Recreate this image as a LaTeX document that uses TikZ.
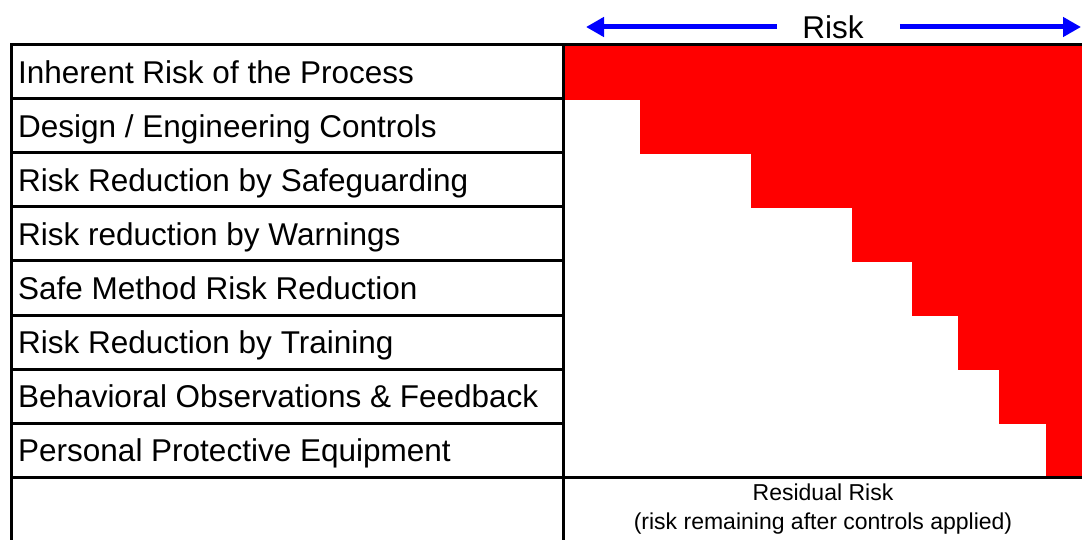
\documentclass[tikz,border=0pt]{standalone}
\usepackage{fontspec}
\setmainfont{Liberation Sans}
\usetikzlibrary{arrows.meta,positioning}
\definecolor{riskred}{HTML}{FF0000}
\definecolor{riskblue}{HTML}{0000FF}
\tikzset{
  rowlabel/.style={anchor=base west,inner sep=0pt,font=\fontsize{31.5}{36}\selectfont},
  gridline/.style={line width=3pt,black},
}

\begin{document}
\begin{tikzpicture}[>={Triangle[length=18pt,width=19pt]},x=1pt,y=-1pt]
  \useasboundingbox (0,0) rectangle (1082,540);
  % red staircase, one step per row
  \foreach \x/\y in {565/45,640/99,751/153,852/207,912/261,958/315,999/369,1046/423}
    \fill[riskred] (\x,\y) rectangle (1082,{\y+55});
  % table
  \draw[gridline] (10,45) -- (1082,45);
  \draw[gridline] (10,477) -- (1082,477);
  \foreach \y in {99,153,...,423}
    \draw[gridline] (10,\y) -- (563.5,\y);
  \draw[gridline] (11.5,43.5) -- (11.5,540);
  \draw[gridline] (563.5,43.5) -- (563.5,540);
  % row labels
  \foreach \t [count=\i] in {{Inherent Risk of the Process},{Design / Engineering Controls},
      {Risk Reduction by Safeguarding},{Risk reduction by Warnings},{Safe Method Risk Reduction},
      {Risk Reduction by Training},{Behavioral Observations \& Feedback},{Personal Protective Equipment}}
    \node[rowlabel] (row\i) at (18,{29.5+54*\i}) {\t};
  % risk axis
  \node[font=\fontsize{31.5}{36}\selectfont,inner sep=0pt] (risk) at (833,27) {Risk};
  \coordinate (lefttip) at (586,27);
  \coordinate (righttip) at (1081,27);
  \draw[->,riskblue,line width=5pt] ([xshift=-25pt]risk.west) -- (lefttip);
  \draw[->,riskblue,line width=5pt] ([xshift=36pt]risk.east) -- (righttip);
  \node[font=\fontsize{23}{29}\selectfont,align=center] (residual) at (823,509)
    {Residual Risk\\(risk remaining after controls applied)};
\end{tikzpicture}
\end{document}
